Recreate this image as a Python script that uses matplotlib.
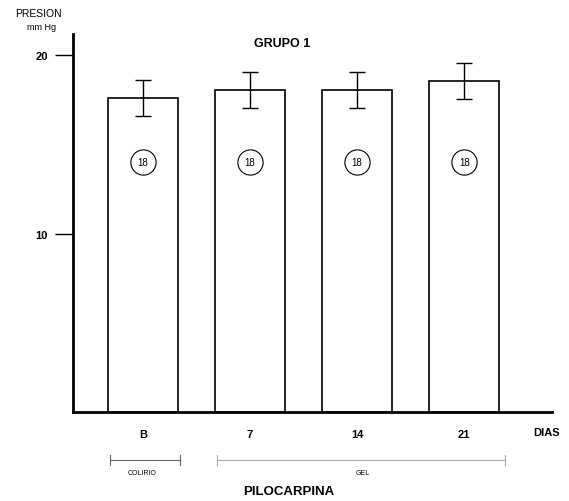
import matplotlib
matplotlib.use("Agg")
import matplotlib.pyplot as plt

plt.rcParams['font.family'] = ['Liberation Sans', 'DejaVu Sans']

# data
dias = ["B", "7", "14", "21"]
presion = [17.6, 18.05, 18.05, 18.55]
error = [1.0, 1.0, 1.0, 1.0]
n_ojos = ["18", "18", "18", "18"]
pos = [0, 1, 2, 3]

fig = plt.figure(figsize=(5.69, 5.02), dpi=100)
ax = fig.add_axes([73 / 569, 89 / 502, 479 / 569, 378 / 502])

ax.bar(pos, presion, width=0.65, color="white", edgecolor="black", linewidth=1.2, zorder=2)
ax.errorbar(pos, presion, yerr=error, fmt="none", ecolor="black", elinewidth=1.0,
            capsize=6, capthick=1.0, zorder=3)

# circled number of eyes inside each bar
ax.scatter(pos, [14] * len(pos), s=330, facecolor="white", edgecolor="black",
           linewidth=0.8, zorder=4)
for x, n in zip(pos, n_ojos):
    ax.text(x, 14, n, ha="center", va="center", fontsize=7, zorder=5)

ax.set_xlim(-0.654, 3.82)
ax.set_ylim(0, 21.2)

for s in ["top", "right"]:
    ax.spines[s].set_visible(False)
ax.spines["left"].set_linewidth(2)
ax.spines["bottom"].set_linewidth(2)

ax.set_yticks([10, 20])
ax.set_yticklabels(["10", "20"], fontsize=8, fontweight="bold")
ax.tick_params(axis="y", direction="out", length=13, width=1, pad=5)
ax.set_xticks(pos)
ax.set_xticklabels(dias, fontsize=8, fontweight="bold")
ax.tick_params(axis="x", length=0, pad=12)

ax.text(3.77, -1.12, "DIAS", ha="center", va="center", fontsize=8, fontweight="bold",
        clip_on=False)
ax.text(1.3, 20.7, "GRUPO 1", ha="center", va="center", fontsize=9, fontweight="bold")

fig.text(38 / 569, 1 - 14 / 502, "PRESION", ha="center", va="center", fontsize=7.5)
fig.text(42 / 569, 1 - 28 / 502, "mm Hg", ha="center", va="center", fontsize=6.5)

# treatment brackets under the axis
yb = -2.7
ax.plot([-0.31, 0.35], [yb, yb], color="#666666", lw=0.8, clip_on=False)
for xe in [-0.31, 0.35]:
    ax.plot([xe, xe], [yb - 0.3, yb + 0.3], color="#666666", lw=0.8, clip_on=False)
ax.plot([0.69, 3.38], [yb, yb], color="#aaaaaa", lw=0.8, clip_on=False)
for xe in [0.69, 3.38]:
    ax.plot([xe, xe], [yb - 0.3, yb + 0.3], color="#aaaaaa", lw=0.8, clip_on=False)

ax.text(-0.01, -3.4, "COLIRIO", ha="center", va="center", fontsize=5, clip_on=False)
ax.text(2.05, -3.4, "GEL", ha="center", va="center", fontsize=5, clip_on=False)
ax.text(1.36, -4.45, "PILOCARPINA", ha="center", va="center", fontsize=9.5,
        fontweight="bold", clip_on=False)

fig.savefig("out.png", dpi=100)
